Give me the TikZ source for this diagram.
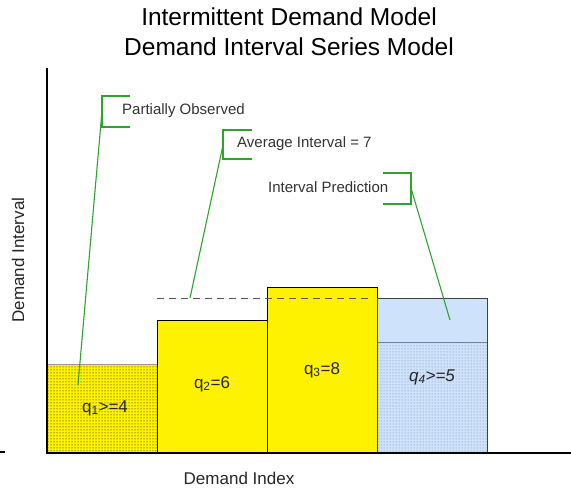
\documentclass[tikz,border=0pt]{standalone}
\usepackage{fontspec}
\setmainfont{Liberation Sans}
\usetikzlibrary{patterns}

\definecolor{calloutgreen}{RGB}{45,165,45}
\definecolor{predblue}{RGB}{206,226,252}
\definecolor{dotblue}{RGB}{110,130,165}

\tikzset{
  callout/.style={draw=calloutgreen, line width=1.1pt},
  note/.style={font=\fontsize{15}{18}\selectfont, text=black!80, anchor=west, inner sep=0pt},
  barlabel/.style={font=\fontsize{17}{20}\selectfont, text=black!85},
  axislabel/.style={font=\fontsize{17}{20}\selectfont, text=black!85}
}

\begin{document}
\begin{tikzpicture}[x=1pt, y=-1pt]
    \useasboundingbox (0,0) rectangle (571,490);
    % タイトル
    \node[font=\fontsize{24.5}{30}\selectfont, align=center] (title) at (289,32) {Intermittent Demand Model\\Demand Interval Series Model};

    % 棒
    \fill[yellow] (47,364) rectangle (157,453);
    \fill[pattern=dots, pattern color=black] (47,364) rectangle (157,453);
    \draw[black!40] (47,364) -- (157,364) -- (157,453);
    \draw[fill=yellow] (157,320) rectangle (267,453);
    \draw[fill=yellow] (267,287) rectangle (377,453);
    \fill[predblue] (377,298) rectangle (487,453);
    \fill[pattern=dots, pattern color=dotblue] (377,342) rectangle (487,453);
    \draw[dotblue] (377,342) -- (487,342);
    \draw[black!75] (377,298) rectangle (487,453);
    % 平均
    \draw[black!65, line width=1pt, dash pattern=on 7pt off 5pt] (157,298) -- (373,298);

    % 軸
    \draw[line width=2.5pt] (47,68) -- (47,454.2);
    \draw[line width=2pt] (46,453) -- (571,453);
    \draw[line width=1.5pt] (0,452) -- (5,452);
    \node[axislabel, rotate=90] (ylab) at (18,260) {Demand Interval};
    \node[axislabel] (xlab) at (239,478) {Demand Index};

    % ラベル
    \node[barlabel] (q1) at (105,408) {q\textsubscript{1}>=4};
    \node[barlabel] (q2) at (212,384) {q\textsubscript{2}=6};
    \node[barlabel] (q3) at (322,370) {q\textsubscript{3}=8};
    \node[barlabel, font=\fontsize{17}{20}\selectfont\itshape] (q4) at (432,377) {q\textsubscript{4}>=5};

    % 吹き出し
    \coordinate (b1) at (102,111);
    \coordinate (e1) at (78,385);
    \node[note] (n1) at (122,111) {Partially Observed};
    \draw[callout] (130,96) -| (102,127) -- (130,127);
    \draw[callout] (b1) -- (e1);

    \coordinate (b2) at (223,145);
    \coordinate (e2) at (190,298);
    \node[note] (n2) at (237,144) {Average Interval = 7};
    \draw[callout] (252,130) -| (223,159) -- (252,159);
    \draw[callout] (b2) -- (e2);

    \coordinate (b3) at (411,188);
    \coordinate (e3) at (450,320);
    \node[note] (n3) at (268,187) {Interval Prediction};
    \draw[callout] (383,173) -| (411,204) -- (383,204);
    \draw[callout] (b3) -- (e3);
  \end{tikzpicture}
\end{document}
